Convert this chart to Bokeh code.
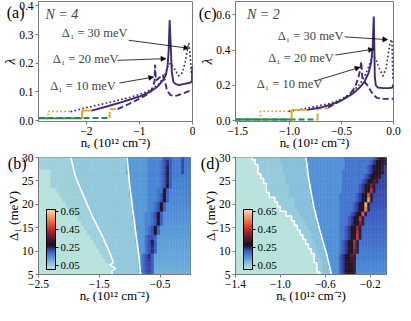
from bokeh.plotting import figure
from bokeh.layouts import row, column
from bokeh.models import (Range1d, Label, Arrow, NormalHead, ColorBar, LinearColorMapper, LinearAxis,
                          FixedTicker, ColumnDataSource, CustomJSTickFormatter)
from bokeh.transform import transform
from bokeh.embed import file_html
from bokeh.resources import INLINE

# ---------------- panel (a): N = 4 ----------------
a10_green_n = [-2.90, -1.56]
a10_green_l = [0.009, 0.009]
a10_yel_n = [-1.56, -1.56, -1.41]
a10_yel_l = [0.009, 0.040, 0.040]
a10_pur_n = [-1.41, -1.20, -1.00, -0.85, -0.76, -0.715, -0.705, -0.69, -0.62, -0.56, -0.52, -0.48, -0.42, -0.36, -0.28, -0.18, -0.08, 0.0]
a10_pur_l = [0.040, 0.058, 0.076, 0.092, 0.110, 0.135, 0.195, 0.140, 0.150, 0.160, 0.140, 0.105, 0.090, 0.086, 0.088, 0.095, 0.102, 0.106]

a20_green_n = [-2.90, -2.08]
a20_green_l = [0.008, 0.008]
a20_yel_n = [-2.08, -2.08, -1.90]
a20_yel_l = [0.008, 0.035, 0.035]
a20_pur_n = [-1.90, -1.60, -1.30, -1.00, -0.80, -0.65, -0.55, -0.50, -0.47, -0.45, -0.43, -0.41, -0.39, -0.36, -0.32, -0.25, -0.15, -0.05, -0.01, -0.004]
a20_pur_l = [0.035, 0.050, 0.066, 0.084, 0.100, 0.120, 0.142, 0.160, 0.190, 0.240, 0.350, 0.260, 0.170, 0.135, 0.128, 0.124, 0.128, 0.132, 0.135, 0.190]

a30_green_n = [-2.90, -2.72]
a30_green_l = [0.008, 0.008]
a30_yel_n = [-2.72, -2.72, -2.28]
a30_yel_l = [0.008, 0.032, 0.032]
a30_pur_n = [-2.28, -2.00, -1.60, -1.20, -0.90, -0.77, -0.65, -0.56, -0.50, -0.46, -0.41, -0.35, -0.26, -0.19, -0.13, -0.09, -0.07, -0.04, -0.02]
a30_pur_l = [0.032, 0.045, 0.062, 0.080, 0.098, 0.110, 0.125, 0.145, 0.170, 0.195, 0.200, 0.183, 0.156, 0.167, 0.210, 0.255, 0.270, 0.220, 0.156]

# ---------------- panel (c): N = 2 ----------------
c10_green_n = [-1.52, -0.73]
c10_green_l = [0.007, 0.007]
c10_yel_n = [-0.73, -0.73, -0.63]
c10_yel_l = [0.007, 0.070, 0.070]
c10_pur_n = [-0.63, -0.55, -0.48, -0.42, -0.37, -0.34, -0.32, -0.31, -0.30, -0.28, -0.25, -0.22, -0.19, -0.16, -0.10, -0.05, 0.0]
c10_pur_l = [0.075, 0.100, 0.125, 0.150, 0.190, 0.240, 0.290, 0.335, 0.240, 0.220, 0.200, 0.170, 0.145, 0.130, 0.125, 0.124, 0.125]

c20_green_n = [-1.52, -0.98]
c20_green_l = [0.007, 0.007]
c20_yel_n = [-0.98, -0.98, -0.83]
c20_yel_l = [0.007, 0.062, 0.062]
c20_pur_n = [-0.83, -0.70, -0.60, -0.50, -0.40, -0.33, -0.28, -0.24, -0.215, -0.20, -0.19, -0.185, -0.18, -0.17, -0.15, -0.10, -0.05, -0.01, -0.003]
c20_pur_l = [0.062, 0.075, 0.092, 0.115, 0.150, 0.185, 0.220, 0.270, 0.330, 0.420, 0.590, 0.450, 0.250, 0.200, 0.188, 0.185, 0.185, 0.188, 0.205]

c30_green_n = [-1.52, -1.28]
c30_green_l = [0.007, 0.007]
c30_yel_n = [-1.28, -1.28, -1.00]
c30_yel_l = [0.007, 0.054, 0.054]
c30_pur_n = [-1.00, -0.80, -0.60, -0.50, -0.40, -0.32, -0.27, -0.23, -0.20, -0.17, -0.14, -0.10, -0.07, -0.05, -0.03, -0.015, -0.005]
c30_pur_l = [0.054, 0.075, 0.100, 0.122, 0.160, 0.210, 0.260, 0.320, 0.370, 0.350, 0.300, 0.255, 0.300, 0.380, 0.450, 0.460, 0.230]

# annotation texts / arrow anchors (data coordinates)
ann_texts = ["\u0394\u2081 = 30 meV", "\u0394\u2081 = 20 meV", "\u0394\u2081 = 10 meV"]
a_txt_n = [-2.46, -2.63, -2.68]
a_txt_l = [0.307, 0.215, 0.119]
a_arr_start_n = [-1.20, -1.41, -1.38]
a_arr_start_l = [0.280, 0.210, 0.131]
a_arr_end_n = [-0.07, -0.50, -0.73]
a_arr_end_l = [0.252, 0.216, 0.152]
c_txt_n = [-1.113, -1.205, -1.316]
c_txt_l = [0.480, 0.356, 0.211]
c_arr_start_n = [-0.47, -0.56, -0.745]
c_arr_start_l = [0.475, 0.372, 0.227]
c_arr_end_n = [-0.055, -0.193, -0.322]
c_arr_end_l = [0.459, 0.405, 0.303]

# ---------------- heatmaps (b) and (d): rows of Delta_1 ----------------
delta_rows = list(range(5, 31))
b_pale = [-1.30, -1.32, -1.35, -1.38, -1.43, -1.48, -1.53, -1.60, -1.65, -1.72, -1.76, -1.80, -1.86,
          -1.92, -1.98, -2.05, -2.10, -2.17, -2.22, -2.30, -2.32, -2.32, -2.32, -2.50, -2.50, -2.50]
b_w1 = [-1.29, -1.28, -1.27, -1.29, -1.31, -1.35, -1.38, -1.42, -1.45, -1.48, -1.52, -1.56, -1.60,
        -1.63, -1.67, -1.70, -1.74, -1.77, -1.80, -1.83, -1.86, -1.90, -1.92, -1.94, -1.95, -1.97]
b_w2 = [-0.82, -0.83, -0.84, -0.845, -0.85, -0.86, -0.87, -0.88, -0.89, -0.90, -0.91, -0.92, -0.93,
        -0.94, -0.95, -0.96, -0.97, -0.98, -0.99, -1.00, -1.01, -1.02, -1.025, -1.03, -1.04, -1.045]
b_ridge = [-0.69, -0.68, -0.67, -0.66, -0.65, -0.64, -0.63, -0.62, -0.60, -0.58, -0.56, -0.54, -0.525,
           -0.51, -0.485, -0.465, -0.44, -0.42, -0.40, -0.385, -0.375, -0.37, -0.365, -0.36, -0.355, -0.35]
b_peak = [0.22, 0.22, 0.22, 0.23, 0.24, 0.24, 0.24, 0.25, 0.25, 0.26, 0.26, 0.26, 0.27,
          0.27, 0.28, 0.28, 0.28, 0.28, 0.27, 0.26, 0.25, 0.25, 0.25, 0.25, 0.24, 0.24]
b_right = [0.10, 0.10, 0.105, 0.11, 0.11, 0.115, 0.12, 0.12, 0.125, 0.13, 0.13, 0.135, 0.14,
           0.14, 0.145, 0.15, 0.15, 0.155, 0.155, 0.16, 0.16, 0.165, 0.165, 0.17, 0.17, 0.17]
b_levels = [0.008, 0.047, 0.060, 0.130, 0.155, 0.180, 0.210, 0.200, 0.220]

d_pale = [-0.655, -0.67, -0.68, -0.695, -0.71, -0.73, -0.755, -0.775, -0.795, -0.815, -0.84, -0.87, -0.90,
          -0.95, -0.99, -1.02, -1.05, -1.11, -1.12, -1.13, -1.15, -1.17, -1.19, -1.20, -1.22, -1.25]
d_w2 = [-0.545, -0.555, -0.565, -0.575, -0.585, -0.596, -0.607, -0.618, -0.63, -0.642, -0.653, -0.664, -0.675,
        -0.685, -0.697, -0.705, -0.713, -0.72, -0.728, -0.737, -0.745, -0.751, -0.757, -0.762, -0.768, -0.773]
d_ridge = [-0.37, -0.365, -0.36, -0.355, -0.35, -0.345, -0.34, -0.33, -0.32, -0.31, -0.30, -0.29, -0.275,
           -0.26, -0.245, -0.23, -0.22, -0.21, -0.195, -0.18, -0.16, -0.14, -0.12, -0.10, -0.085, -0.07]
d_peak = [0.28, 0.29, 0.30, 0.32, 0.36, 0.40, 0.42, 0.44, 0.46, 0.44, 0.42, 0.40, 0.45,
          0.50, 0.56, 0.60, 0.58, 0.50, 0.45, 0.38, 0.34, 0.31, 0.30, 0.30, 0.32, 0.35]
d_right = [0.145, 0.15, 0.155, 0.16, 0.165, 0.17, 0.175, 0.18, 0.185, 0.19, 0.19, 0.195, 0.20,
           0.20, 0.205, 0.21, 0.21, 0.215, 0.215, 0.22, 0.22, 0.225, 0.225, 0.23, 0.23, 0.23]
d_levels = [0.008, 0.055, 0.072, 0.140, 0.175, 0.205, 0.232, 0.260, 0.270, 0.250]

# white contour lines
bw1_n = [-1.966, -1.897, -1.766, -1.61, -1.45, -1.32, -1.27, -1.33, -1.23, -1.29, -1.29]
bw1_d = [30.0, 26.1, 22.0, 17.3, 13.2, 9.4, 7.6, 7.0, 6.3, 5.8, 5.0]
bw2_n = [-1.043, -1.006, -0.954, -0.90, -0.85, -0.823]
bw2_d = [30.0, 24.8, 19.3, 13.9, 9.1, 5.0]
dw2_n = [-0.773, -0.744, -0.701, -0.643, -0.586, -0.545]
dw2_d = [30.0, 24.8, 19.3, 13.9, 9.1, 5.0]

cbar_ticks = [0.05, 0.25, 0.45, 0.65]

# ---------------- styling ----------------
FONT = "Liberation Serif"
FRAME = "#7a7a7a"
PURPLE = "#3f2a73"
GREEN = "#23894c"
YELLOW = "#e6a519"
SX = 395.0 / 411.0
SY = 305.0 / 321.0

pal_stops = [0.0, 0.04, 0.08, 0.12, 0.16, 0.20, 0.23, 0.255, 0.28, 0.33, 0.40, 0.46, 0.52, 0.58, 0.67]
pal_cols = ["#bde6dc", "#a2d3dc", "#7fbadb", "#5c9fd8", "#4682d3", "#3d5ec4", "#34399a", "#1c1a30",
            "#1e1014", "#4c1426", "#8e1c30", "#c83232", "#e8603c", "#f49460", "#fcd8b0"]


def hex2rgb(h):
    return tuple(int(h[i:i + 2], 16) for i in (1, 3, 5))


def build_palette(n=256):
    out = []
    lo, hi = pal_stops[0], pal_stops[-1]
    for k in range(n):
        v = lo + (hi - lo) * k / (n - 1)
        j = 0
        while j < len(pal_stops) - 2 and v > pal_stops[j + 1]:
            j += 1
        t = (v - pal_stops[j]) / (pal_stops[j + 1] - pal_stops[j])
        c0, c1 = hex2rgb(pal_cols[j]), hex2rgb(pal_cols[j + 1])
        c = [round(c0[m] + (c1[m] - c0[m]) * t) for m in range(3)]
        out.append("#%02x%02x%02x" % tuple(c))
    return out


mapper = LinearColorMapper(palette=build_palette(), low=pal_stops[0], high=pal_stops[-1])


def fmt(dec):
    return CustomJSTickFormatter(code="return (tick < -1e-9 ? '\\u2212' : '') + Math.abs(tick).toFixed(%d);" % dec)


def make_fig(spec, bl, br, bt, bb, xt, yt, xdec, ydec, xlabel, ylabel, ylab_italic=False):
    fl, ft, fw, fh, xr, yr = spec
    p = figure(x_range=Range1d(*xr), y_range=Range1d(*yr), frame_width=fw, frame_height=fh,
               min_border_left=bl, min_border_right=br, min_border_top=bt, min_border_bottom=bb,
               output_backend="svg", toolbar_location=None, tools="")
    p.xgrid.visible = False
    p.ygrid.visible = False
    p.outline_line_color = FRAME
    p.outline_line_width = 1
    p.border_fill_color = "white"
    p.xaxis.ticker = FixedTicker(ticks=xt)
    p.yaxis.ticker = FixedTicker(ticks=yt)
    p.xaxis.formatter = fmt(xdec)
    p.yaxis.formatter = fmt(ydec)
    p.xaxis.axis_label = xlabel
    p.yaxis.axis_label = ylabel
    for ax in (p.xaxis[0], p.yaxis[0]):
        ax.axis_line_color = FRAME
        ax.major_tick_line_color = FRAME
        ax.minor_tick_line_color = None
        ax.major_tick_in = 0
        ax.major_tick_out = 3
        ax.major_label_standoff = 2
        ax.major_label_text_font = FONT
        ax.major_label_text_font_size = "11.5px"
        ax.major_label_text_color = "black"
        ax.axis_label_text_font = FONT
        ax.axis_label_text_font_size = "13px"
        ax.axis_label_text_font_style = "normal"
        ax.axis_label_text_color = "black"
    p.xaxis.axis_label_standoff = -3
    p.yaxis.axis_label_standoff = -2
    if ylab_italic:
        p.yaxis.axis_label_text_font_style = "italic"
        p.yaxis.axis_label_text_font_size = "14px"
    return p


def ref_to_data(spec, rx, ry):
    fl, ft, fw, fh, xr, yr = spec
    px, py = 8 + SX * rx, 8 + SY * ry
    return (xr[0] + (px - fl) / fw * (xr[1] - xr[0]), yr[1] - (py - ft) / fh * (yr[1] - yr[0]))


def panel_tag(p, spec, text, rx, ry, standoff):
    # panel letter drawn as the single tick label of an extra, line-less left axis
    x, y = ref_to_data(spec, rx, ry)
    ax = LinearAxis(ticker=FixedTicker(ticks=[y]),
                    formatter=CustomJSTickFormatter(code="return '%s';" % text),
                    axis_line_color=None, major_tick_line_color=None, minor_tick_line_color=None,
                    major_tick_out=0, major_tick_in=0, major_label_standoff=standoff,
                    major_label_text_font=FONT, major_label_text_font_size="16px",
                    major_label_text_color="black")
    p.add_layout(ax, "left")


SPEC_A = (45, 9, 154, 120, (-2.9, 0.0), (-0.003, 0.415))
SPEC_C = (237, 9, 158, 120, (-1.52, 0.0), (-0.004, 0.675))
SPEC_B = (46, 164, 152, 117, (-2.5, 0.0), (5.0, 30.0))
SPEC_D = (243, 164, 151, 117, (-1.4, -0.055), (5.0, 30.0))

XLAB = "n\u2091 (10\u00b9\u00b2 cm\u207b\u00b2)"

pa = make_fig(SPEC_A, 37, 3, 1, 30, [-2, -1, 0], [0.0, 0.1, 0.2, 0.3, 0.4], 0, 1, XLAB, "\u03bb", True)
pc = make_fig(SPEC_C, 35, 8, 1, 30, [-1.5, -1.0, -0.5, 0.0], [0.0, 0.2, 0.4, 0.6], 1, 1, XLAB, "\u03bb", True)
pb = make_fig(SPEC_B, 38, 4, 5, 32, [-2.5, -1.5, -0.5], [5, 10, 15, 20, 25, 30], 1, 0, XLAB, "\u0394\u2081 (meV)")
pd = make_fig(SPEC_D, 41, 9, 5, 32, [-1.4, -1.0, -0.6, -0.2], [5, 10, 15, 20, 25, 30], 1, 0, XLAB, "\u0394\u2081 (meV)")


def add_curves(p, sets):
    for (gn, gl), (yn, yl), (pn, pl), dash in sets:
        kw = dict(line_width=1.9)
        if dash == "dotted":
            kw.update(line_dash="0 4", line_cap="round")
        elif dash == "dashed":
            kw.update(line_dash="6 3")
        p.line(gn, gl, line_color=GREEN, **kw)
        p.line(yn, yl, line_color=YELLOW, **kw)
        p.line(pn, pl, line_color=PURPLE, **kw)


add_curves(pa, [((a10_green_n, a10_green_l), (a10_yel_n, a10_yel_l), (a10_pur_n, a10_pur_l), "dashed"),
                ((a30_green_n, a30_green_l), (a30_yel_n, a30_yel_l), (a30_pur_n, a30_pur_l), "dotted"),
                ((a20_green_n, a20_green_l), (a20_yel_n, a20_yel_l), (a20_pur_n, a20_pur_l), "solid")])
add_curves(pc, [((c10_green_n, c10_green_l), (c10_yel_n, c10_yel_l), (c10_pur_n, c10_pur_l), "dashed"),
                ((c30_green_n, c30_green_l), (c30_yel_n, c30_yel_l), (c30_pur_n, c30_pur_l), "dotted"),
                ((c20_green_n, c20_green_l), (c20_yel_n, c20_yel_l), (c20_pur_n, c20_pur_l), "solid")])


def annotate(p, txt_n, txt_l, sn, sl, en, el):
    for i, t in enumerate(ann_texts):
        p.add_layout(Label(x=txt_n[i], y=txt_l[i], text=t, text_font=FONT, text_font_size="12.5px",
                           text_baseline="middle", text_align="left"))
        p.add_layout(Arrow(x_start=sn[i], y_start=sl[i], x_end=en[i], y_end=el[i], line_width=0.8,
                           line_color="black",
                           end=NormalHead(size=5, fill_color="black", line_color="black", line_width=0.5)))


annotate(pa, a_txt_n, a_txt_l, a_arr_start_n, a_arr_start_l, a_arr_end_n, a_arr_end_l)
annotate(pc, c_txt_n, c_txt_l, c_arr_start_n, c_arr_start_l, c_arr_end_n, c_arr_end_l)

pa.add_layout(Label(x=-2.77, y=0.37, text="N = 4", text_font=FONT, text_font_size="14px",
                    text_font_style="italic", text_baseline="middle"))
pc.add_layout(Label(x=-1.41, y=0.603, text="N = 2", text_font=FONT, text_font_size="14px",
                    text_font_style="italic", text_baseline="middle"))


# ---------------- heatmap cells ----------------
def cells_b():
    step = 0.05
    xs, ys, vs = [], [], []
    L = b_levels
    for i, d in enumerate(delta_rows):
        for k in range(50):
            x = -2.5 + step * (k + 0.5)
            r = round((x - b_ridge[i]) / step)
            if x < b_pale[i]:
                v = L[0]
            elif x < b_w1[i]:
                v = L[1]
            elif x < b_w2[i]:
                v = L[2]
            elif r <= -3:
                v = L[3] if x < 0.5 * (b_w2[i] + b_ridge[i]) else L[4]
            elif r == -2:
                v = L[5]
            elif r == -1:
                v = L[6]
            elif r == 0:
                v = b_peak[i]
            elif r == 1:
                v = L[7]
            else:
                v = b_right[i]
            if d >= 27 and abs(x + 0.125) < step / 2:
                v = L[8]
            xs.append(x); ys.append(d); vs.append(v)
    return step, xs, ys, vs


def cells_d():
    step = 0.025
    xs, ys, vs = [], [], []
    L = d_levels
    for i, d in enumerate(delta_rows):
        for k in range(54):
            x = -1.4 + step * (k + 0.5)
            r = round((x - d_ridge[i]) / step)
            if x < d_pale[i]:
                v = L[0]
            elif x < d_w2[i]:
                v = L[1] if x < 0.5 * (d_pale[i] + d_w2[i]) else L[2]
            elif r <= -5:
                v = L[3] if x < 0.5 * (d_w2[i] + d_ridge[i]) else L[4]
            elif r == -4:
                v = L[5]
            elif r == -3:
                v = L[6]
            elif r == -2:
                v = L[7]
            elif r == -1:
                v = L[8]
            elif r == 0:
                v = d_peak[i]
            elif r == 1:
                v = L[9]
            else:
                v = d_right[i]
            xs.append(x); ys.append(d); vs.append(v)
    return step, xs, ys, vs


def draw_cells(p, cells):
    step, xs, ys, vs = cells
    src = ColumnDataSource(dict(x=xs, y=ys, v=vs))
    p.rect(x="x", y="y", width=step, height=1.0, source=src,
           fill_color=transform("v", mapper), line_color=transform("v", mapper), line_width=0.5)


draw_cells(pb, cells_b())
draw_cells(pd, cells_d())

pb.line(bw1_n, bw1_d, line_color="white", line_width=1.6)
pb.line(bw2_n, bw2_d, line_color="white", line_width=1.6)
pd.line(dw2_n, dw2_d, line_color="white", line_width=1.6)

# staircase contour along the pale region of (d)
st_n, st_d = [], []
for i, d in enumerate(delta_rows):
    cnt = sum(1 for k in range(54) if -1.4 + 0.025 * (k + 0.5) < d_pale[i])
    edge = -1.4 + 0.025 * cnt
    st_n += [edge, edge]
    st_d += [d - 0.5, d + 0.5]
pd.line(st_n, st_d, line_color="white", line_width=1.6)


def add_cbar(p):
    cb = ColorBar(color_mapper=mapper, ticker=FixedTicker(ticks=cbar_ticks), width=9, height=60,
                  location=(8, 5), padding=0, margin=0, bar_line_color="black", bar_line_width=1,
                  border_line_color=None, background_fill_alpha=0, major_tick_in=0, major_tick_out=3,
                  major_tick_line_color="black", label_standoff=2, minor_tick_line_color=None,
                  major_label_text_font=FONT, major_label_text_font_size="11px",
                  major_label_text_color="black")
    p.add_layout(cb)


add_cbar(pb)
add_cbar(pd)

panel_tag(pa, SPEC_A, "(a)", 11.5, 13, -24)
panel_tag(pc, SPEC_C, "(c)", 211, 14, -19)
panel_tag(pb, SPEC_B, "(b)", 11, 170, -24)
panel_tag(pd, SPEC_D, "(d)", 216, 170, -20)

layout = column(row(pa, pc), row(pb, pd))
open("out.html", "w").write(file_html(layout, INLINE))
